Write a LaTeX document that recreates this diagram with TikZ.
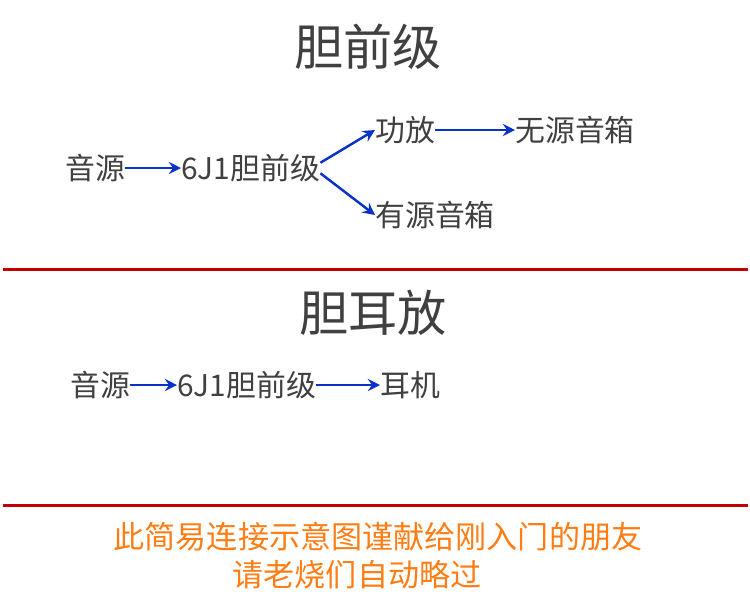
\documentclass[tikz,border=0pt]{standalone}
\usepackage{fontspec}
\setmainfont{Noto Sans CJK SC}
\usetikzlibrary{arrows.meta, positioning}

\definecolor{txtgray}{RGB}{64,64,64}
\definecolor{flowblue}{RGB}{10,50,200}
\definecolor{rulered}{RGB}{192,0,0}
\definecolor{noteorange}{RGB}{255,125,20}

\begin{document}
\begin{tikzpicture}[
  x=0.02cm, y=-0.02cm,
  >=Stealth,
  every node/.style={inner sep=0pt, text=txtgray},
  lbl/.style={anchor=west, font=\fontsize{17}{20}\selectfont},
  ttl/.style={font=\fontsize{28}{32}\selectfont},
  note/.style={text=noteorange, font=\fontsize{17.7}{21}\selectfont},
  flow/.style={->, draw=flowblue, line width=1.4pt,
    arrows={-Stealth[length=7pt, width=7pt, inset=2.5pt]}},
  seprule/.style={draw=rulered, line width=1.7pt},
]

% ── Canvas (pixel grid, y downwards) ─────────────────────────────────────────
\useasboundingbox (0,0) rectangle (750,600);

% ── Part 1: valve preamp ─────────────────────────────────────────────────────
\node[ttl] (t1) at (368,47) {胆前级};

\node[lbl] (src1) at (65,168)  {音源};
\node[lbl] (pre1) at (181,168) {6J1胆前级};
\node[lbl] (amp)  at (375,130) {功放};
\node[lbl] (pas)  at (515,130) {无源音箱};
\node[lbl] (act)  at (375,215) {有源音箱};

\draw[flow] (src1.east) -- (pre1.west);
\draw[flow] ([yshift=3pt]pre1.east) -- (amp.west);
\draw[flow] ([yshift=-3pt]pre1.east) -- (act.west);
\draw[flow] (amp.east) -- (pas.west);

% Separator
\draw[seprule] (3,269) -- (748,269);

% ── Part 2: valve headphone amp ──────────────────────────────────────────────
\node[ttl] (t2) at (373,313) {胆耳放};

\node[lbl] (src2) at (70,385)  {音源};
\node[lbl] (pre2) at (177,385) {6J1胆前级};
\node[lbl] (hp)   at (380,385) {耳机};

\draw[flow] (src2.east) -- (pre2.west);
\draw[flow] (pre2.east) -- (hp.west);

% Separator
\draw[seprule] (3,505) -- (748,505);

% ── Footnote ─────────────────────────────────────────────────────────────────
\node[note] (n1) at (378,537) {此简易连接示意图谨献给刚入门的朋友};
\node[note] (n2) at (357,575) {请老烧们自动略过};

\end{tikzpicture}
\end{document}
